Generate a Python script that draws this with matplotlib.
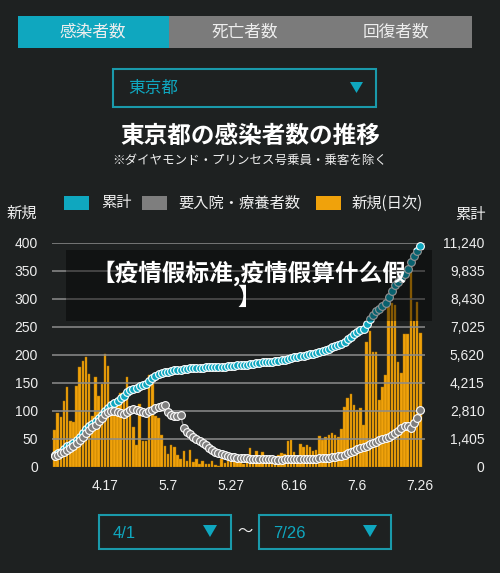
import numpy as np
import matplotlib.pyplot as plt
from matplotlib.patches import Rectangle, Polygon

# -----------------------------
# 東京都 2020/4/1 〜 7/26 (117日)
# -----------------------------
shinki = [66, 97, 89, 118, 143, 83, 80, 144, 178, 189, 197, 166, 91, 161, 127,
          149, 201, 181, 107, 101, 123, 132, 134, 161, 103, 72, 39, 112, 47, 46,
          165, 154, 91, 87, 58, 38, 23, 39, 36, 22, 15, 28, 10, 30, 9,
          14, 5, 10, 5, 5, 11, 3, 2, 14, 8, 10, 11, 15, 22, 14, 5,
          13, 34, 12, 28, 20, 26, 14, 13, 12, 18, 22, 25, 24, 47, 48,
          27, 16, 41, 35, 39, 35, 29, 31, 55, 48, 54, 57, 60, 58, 54,
          67, 107, 124, 131, 111, 102, 106, 75, 224, 243, 206, 206, 119, 143, 165,
          286, 293, 290, 188, 168, 237, 238, 366, 260, 295, 239]
ruikei_3_31 = 521
youniyuin = [545, 600, 680, 760, 860, 960, 1060, 1200, 1350, 1520,
             1700, 1880, 2000, 2120, 2300, 2480, 2650, 2780, 2830, 2820,
             2760, 2700, 2680, 2760, 2850, 2910, 2880, 2810, 2760, 2730,
             2800, 2880, 2960, 3020, 3060, 3100, 2780, 2590, 2580, 2580,
             2590, 1950, 1780, 1640, 1530, 1420, 1310, 1210, 1090, 970,
             860, 770, 700, 640, 590, 550, 520, 495, 470, 450,
             440, 430, 420, 410, 400, 395, 390, 385, 380, 380,
             375, 375, 375, 380, 380, 385, 390, 390, 395, 400,
             405, 410, 420, 425, 430, 440, 450, 465, 480, 500,
             530, 570, 620, 680, 750, 820, 880, 930, 990, 1060,
             1140, 1200, 1270, 1330, 1400, 1460, 1530, 1610, 1700, 1820,
             1960, 2080, 2040, 1980, 2200, 2450, 2870]
x_tick_pos = [16, 36, 56, 76, 96, 116]
x_tick_labels = ["4.17", "5.7", "5.27", "6.16", "7.6", "7.26"]
left_ticks = [0, 50, 100, 150, 200, 250, 300, 350, 400]
right_max = 11240

dias = np.arange(len(shinki))
ruikei = ruikei_3_31 + np.cumsum(shinki)

# -----------------------------
# Cores / fontes
# -----------------------------
BG = "#1e2121"
CYAN = "#0fa7bf"
GRAY = "#7e7e7e"
ORANGE = "#f0a20b"
TXT = "#eeeeee"
JP = ["Noto Sans CJK JP", "DejaVu Sans"]
SC = ["Noto Sans CJK SC", "DejaVu Sans"]
NUM = ["Liberation Sans", "DejaVu Sans"]

W, H = 500, 573
fig = plt.figure(figsize=(W / 100, H / 100), dpi=100, facecolor=BG)

# -----------------------------
# Gráfico
# -----------------------------
ax = fig.add_axes([52 / W, 1 - 467 / H, 373 / W, 224 / H])
ax.set_facecolor("none")
ax.bar(dias, shinki, width=0.8, color=ORANGE, edgecolor="#b07400",
       linewidth=0.3, zorder=2)
for v in left_ticks[1:]:
    ax.axhline(v, color="#8c8c8c", lw=1.3, alpha=0.85, zorder=3)
ax.set_xlim(-0.8, 117.5)
ax.set_ylim(0, 400)
ax.set_yticks(left_ticks)
ax.set_yticklabels([str(v) for v in left_ticks], family=NUM, fontsize=10, color=TXT)
ax.set_xticks(x_tick_pos)
ax.set_xticklabels(x_tick_labels, family=NUM, fontsize=10, color=TXT)
ax.tick_params(axis="y", length=0, pad=10)
ax.tick_params(axis="x", length=0, pad=9)
for s in ax.spines.values():
    s.set_visible(False)

ax2 = ax.twinx()
ax2.set_ylim(0, right_max)
right_ticks = [right_max * i // 8 for i in range(9)]
ax2.set_yticks(right_ticks)
ax2.set_yticklabels([f"{v:,}" for v in right_ticks], family=NUM, fontsize=10, color=TXT)
for lab in ax2.get_yticklabels():
    lab.set_horizontalalignment("right")
ax2.tick_params(axis="y", length=0, pad=43)
for s in ax2.spines.values():
    s.set_visible(False)

ax2.plot(dias, ruikei, color=CYAN, lw=1, marker="o", ms=5.6, mfc=CYAN,
         mec="white", mew=0.8, clip_on=False, zorder=4)
ax2.plot(dias, youniyuin, color=GRAY, lw=1, marker="o", ms=5.6, mfc=GRAY,
         mec="white", mew=0.8, clip_on=False, zorder=5)

# -----------------------------
# Interface (coordenadas em pixels)
# -----------------------------
ui = fig.add_axes([0, 0, 1, 1], zorder=10)
ui.set_xlim(0, W)
ui.set_ylim(H, 0)
ui.axis("off")
ui.patch.set_alpha(0)

# abas
ui.add_patch(Rectangle((18, 16), 151, 32, color=CYAN, lw=0))
ui.add_patch(Rectangle((169, 16), 303, 32, color="#7b7b7b", lw=0))
for xc, t in [(93, "感染者数"), (245, "死亡者数"), (396, "回復者数")]:
    ui.text(xc, 32, t, family=JP, fontsize=12, color=TXT, ha="center", va="center")

# seletor
ui.add_patch(Rectangle((113, 69), 263, 38, fill=False, ec="#1a9aab", lw=1.5))
ui.text(128, 88, "東京都", family=JP, fontsize=12, color=CYAN, ha="left", va="center")
ui.add_patch(Polygon([(350, 82), (363, 82), (356.5, 93)], color=CYAN, lw=0))

# títulos
ui.text(250, 136, "東京都の感染者数の推移", family=JP, fontsize=17, weight="bold",
        color="white", ha="center", va="center")
ui.text(250, 160, "※ダイヤモンド・プリンセス号乗員・乗客を除く", family=JP,
        fontsize=9, color=TXT, ha="center", va="center")

# legenda
for x0, cor, x1, t in [(64, CYAN, 101, "累計"), (142, GRAY, 178, "要入院・療養者数"),
                       (316, ORANGE, 352, "新規(日次)")]:
    ui.add_patch(Rectangle((x0, 196), 25, 14, color=cor, lw=0))
    ui.text(x1, 203, t, family=JP, fontsize=11, color=TXT, ha="left", va="center")
ui.text(7, 213, "新規", family=JP, fontsize=11, color=TXT, ha="left", va="center")
ui.text(486, 214, "累計", family=JP, fontsize=11, color=TXT, ha="right", va="center")

# faixa sobreposta
ui.add_patch(Rectangle((66, 250), 366, 71, color="black", alpha=0.42, lw=0))
ui.text(249, 273, "【疫情假标准,疫情假算什么假", family=SC, fontsize=17,
        weight="bold", color="white", ha="center", va="center")
ui.text(249, 298, "】", family=SC, fontsize=17, weight="bold", color="white",
        ha="center", va="center")

# período
for x0, t, tri in [(99, "4/1", 203), (259, "7/26", 363)]:
    ui.add_patch(Rectangle((x0, 515), 132, 34, fill=False, ec="#1a9aab", lw=1.5))
    ui.text(x0 + 14, 533, t, family=NUM, fontsize=12, color=CYAN, ha="left", va="center")
    ui.add_patch(Polygon([(tri, 525), (tri + 14, 525), (tri + 7, 537)], color=CYAN, lw=0))
ui.text(245, 531, "〜", family=JP, fontsize=11, color=TXT, ha="center", va="center")

plt.savefig("out.png", dpi=100, facecolor=BG)
